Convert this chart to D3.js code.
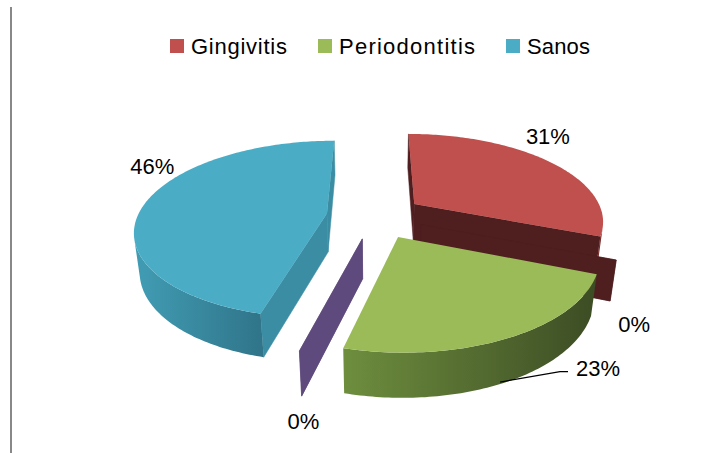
<!DOCTYPE html>
<html>
<head>
<meta charset="utf-8">
<script src="https://cdn.jsdelivr.net/npm/d3@7"></script>
<style>
  body { margin: 0; background: #fff; }
  text { font-family: "Liberation Sans", Arial, sans-serif; fill: #000; }
</style>
</head>
<body>
<div id="chart"></div>
<script>
// data, clockwise from 12 o'clock
const categories = ['Gingivitis', '', 'Periodontitis', '', 'Sanos'];
const values = [31, 0, 23, 0, 46];
const labels = ['31%', '0%', '23%', '0%', '46%'];
const legendItems = ['Gingivitis', 'Periodontitis', 'Sanos'];

const W = 723, H = 453;
const colors = {
  top:  ['#C0504D', '#C0504D', '#9BBB59', '#8064A2', '#4BACC6'],
  cut:  ['#4F1F20', '#4F1F20', '#4A5E2A', '#5E4A7C', '#3A8DA3'],
  wallL:['#7A2E2C', '#7A2E2C', '#6E8E3E', '#5E4A7C', '#419DB4'],
  wallR:['#4F1F20', '#4F1F20', '#3C4C24', '#5E4A7C', '#30758A']
};

const svg = d3.select('#chart').append('svg')
  .attr('width', W).attr('height', H);

// thin frame line at left
svg.append('line')
  .attr('x1', 11).attr('x2', 11).attr('y1', 7).attr('y2', 453)
  .attr('stroke', '#888').attr('stroke-width', 2);

// --- 3D projection ---
const cx = 375, cy = 255, f = 185, D = 5;
const tilt = 29.6 * Math.PI / 180;
const sn = Math.sin(tilt), cs = Math.cos(tilt);
const h = 0.235, explode = 0.257;
const camera = [0, D * sn, D * cs];

function project(X, Y, Z) {
  const d = Y * sn + Z * cs;
  const k = D / (D - d);
  return [cx + f * X * k, cy - f * (Y * cs - Z * sn) * k];
}
// angle a: clockwise from back (12 o'clock)
function rimPoint(off, a, t, Y) {
  return [off[0] + t * Math.sin(a), Y, off[1] - t * Math.cos(a)];
}
function facing(p, n) {
  const v = [camera[0] - p[0], camera[1] - p[1], camera[2] - p[2]];
  return v[0] * n[0] + v[1] * n[1] + v[2] * n[2] > 0;
}

const pie = d3.pie().sort(null).value(d => d)(values);
const toPath = pts => 'M' + pts.map(p => project(p[0], p[1], p[2]).join(',')).join('L') + 'Z';

const slices = pie.map((s, i) => {
  const mid = (s.startAngle + s.endAngle) / 2;
  const off = [explode * Math.sin(mid), -explode * Math.cos(mid)];
  return { i, s, mid, off, depth: off[1] + 0.5 * -Math.cos(mid) };
}).sort((a, b) => a.depth - b.depth);

const defs = svg.append('defs');
const gPie = svg.append('g');

slices.forEach(sl => {
  const { i, s, off } = sl;
  const g = gPie.append('g');
  const a0 = s.startAngle, a1 = s.endAngle;
  const apexT = [off[0], h, off[1]], apexB = [off[0], 0, off[1]];

  // radial cut faces
  [[a0, -1], [a1, 1]].forEach(([a, sgn]) => {
    const n = [sgn * Math.cos(a), 0, sgn * Math.sin(a)];
    const rt = rimPoint(off, a, 1, h), rb = rimPoint(off, a, 1, 0);
    const mid = [(off[0] + rt[0]) / 2, h / 2, (off[1] + rt[2]) / 2];
    let vis = facing(mid, n);
    if (a1 - a0 < 1e-6) vis = true; // zero slice: draw its wall
    if (vis) {
      g.append('path').attr('d', toPath([apexT, rt, rb, apexB]))
        .attr('fill', colors.cut[i]).attr('stroke', colors.cut[i]).attr('stroke-width', 0.5);
    }
  });
  if (a1 - a0 < 1e-6) return;

  // outer wall, visible part only
  const steps = Math.max(8, Math.ceil((a1 - a0) / (Math.PI / 180)));
  const angs = d3.range(steps + 1).map(j => a0 + (a1 - a0) * j / steps);
  const vis = angs.filter(a => facing(rimPoint(off, a, 1, h / 2), [Math.sin(a), 0, -Math.cos(a)]));
  if (vis.length > 1) {
    const topPts = vis.map(a => rimPoint(off, a, 1, h));
    const botPts = vis.map(a => rimPoint(off, a, 1, 0)).reverse();
    const xs = topPts.map(p => project(p[0], p[1], p[2])[0]);
    const gid = 'wall' + i;
    const grad = defs.append('linearGradient').attr('id', gid)
      .attr('gradientUnits', 'userSpaceOnUse')
      .attr('x1', d3.min(xs)).attr('x2', d3.max(xs)).attr('y1', 0).attr('y2', 0);
    grad.append('stop').attr('offset', 0).attr('stop-color', colors.wallL[i]);
    grad.append('stop').attr('offset', 1).attr('stop-color', colors.wallR[i]);
    g.append('path').attr('d', toPath(topPts.concat(botPts)))
      .attr('fill', `url(#${gid})`);
  }

  // top face
  const topFace = [apexT].concat(angs.map(a => rimPoint(off, a, 1, h)));
  g.append('path').attr('d', toPath(topFace)).attr('fill', colors.top[i]);
});

// --- data labels ---
const labelNudge = [[-2, -25], [18, 64], [88, 31], [4, 70], [7, -37]];
pie.forEach((s, i) => {
  const mid = (s.startAngle + s.endAngle) / 2;
  const off = [explode * Math.sin(mid), -explode * Math.cos(mid)];
  const p = rimPoint(off, mid, 1, h);
  const [x, y] = project(p[0], p[1], p[2]);
  const lx = x + labelNudge[i][0], ly = y + labelNudge[i][1];
  if (i === 2) {
    const b = rimPoint(off, mid, 1, 0);
    const [bx, by] = project(b[0], b[1], b[2]);
    svg.append('path')
      .attr('d', `M${bx - 6},${by}L${lx - 38},${ly + 3}L${lx - 30},${ly + 3}`)
      .attr('fill', 'none').attr('stroke', '#000').attr('stroke-width', 1.3);
  }
  svg.append('text').attr('x', lx).attr('y', ly)
    .attr('text-anchor', 'middle').attr('dominant-baseline', 'central')
    .attr('font-size', 22).text(labels[i]);
});

// --- legend ---
const legendColor = d3.scaleOrdinal().domain(legendItems).range(['#C0504D', '#9BBB59', '#4BACC6']);
const legendWidths = [96, 136, 63];
const leg = svg.append('g');
let lx = 0;
legendItems.forEach((name, j) => {
  const it = leg.append('g').attr('transform', `translate(${lx},0)`);
  it.append('rect').attr('x', 0).attr('y', -7).attr('width', 14).attr('height', 14)
    .attr('fill', legendColor(name));
  it.append('text').attr('x', 21).attr('y', 0).attr('dominant-baseline', 'central')
    .attr('font-size', 22).attr('textLength', legendWidths[j]).attr('lengthAdjust', 'spacing')
    .text(name);
  lx += 21 + legendWidths[j] + 31;
});
const legW = lx - 31;
leg.attr('transform', `translate(${380 - legW / 2},46)`);
</script>
</body>
</html>
